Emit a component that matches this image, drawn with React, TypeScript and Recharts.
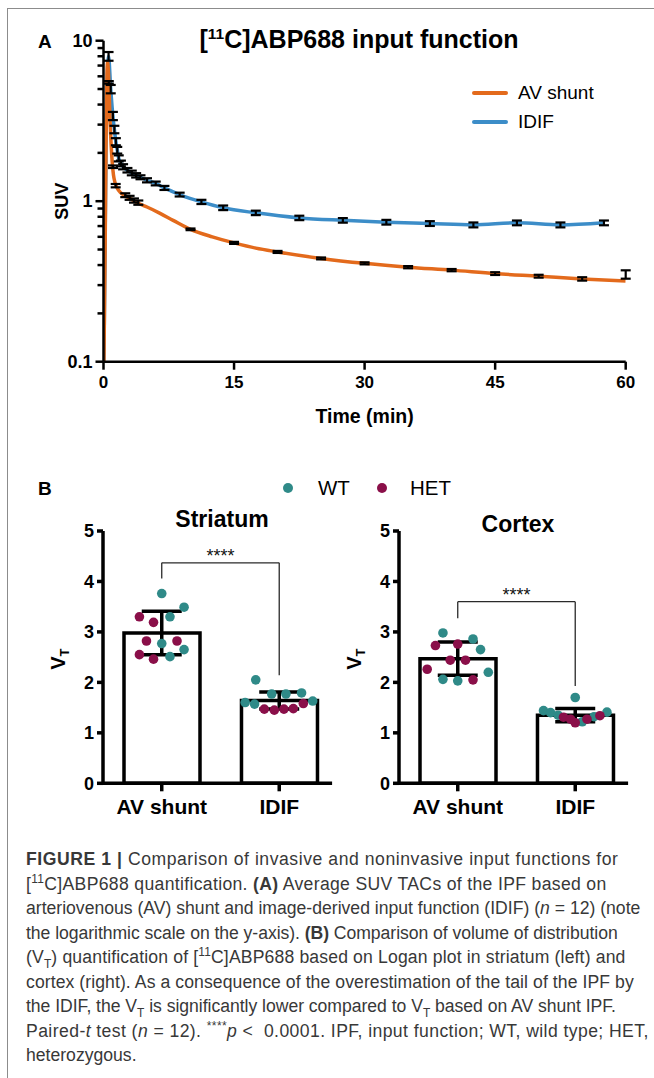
import React from 'react';
import { ComposedChart, Line, Scatter, Bar, XAxis, YAxis, ErrorBar, ReferenceLine } from 'recharts';

const FONT = '"Liberation Sans", Arial, Helvetica, sans-serif';
const ORANGE = '#E36A1C';
const BLUE = '#3C8DC8';
const TEAL = '#2F8A88';
const MAROON = '#8A0F49';

// ---------------- Panel A data ----------------
const TIME_TICKS = [0, 15, 30, 45, 60];
const SUV_MAJOR_TICKS = [0.1, 1, 10];
const SUV_MINOR_TICKS = [0.2, 0.3, 0.4, 0.5, 0.6, 0.7, 0.8, 0.9, 2, 3, 4, 5, 6, 7, 8, 9];

const avCurveTime = [0.05, 0.2, 0.3, 0.4, 0.47, 0.55, 0.65, 0.75, 0.85, 1.0, 1.15, 1.3, 1.6, 1.9, 2.5, 3.2, 4, 5, 6.5, 8, 10, 12.5, 15, 17.5, 20, 25, 30, 35, 40, 45, 50, 55, 60];
const avCurveSuv = [0.1, 0.6, 2.5, 6.2, 7.4, 6.6, 4.8, 3.2, 2.4, 1.75, 1.45, 1.32, 1.2, 1.14, 1.08, 1.03, 0.97, 0.92, 0.84, 0.76, 0.668, 0.6, 0.55, 0.51, 0.483, 0.44, 0.41, 0.388, 0.372, 0.354, 0.341, 0.328, 0.318];

const avSampleTime = [0.61, 1.09, 1.4, 2.5, 3.0, 3.5, 4.0, 10, 15, 20, 25, 30, 35, 40, 45, 50, 55, 60];
const avSampleMean = [5.5, 1.64, 1.25, 1.09, 1.05, 1.01, 0.98, 0.668, 0.55, 0.483, 0.44, 0.41, 0.388, 0.372, 0.354, 0.341, 0.328, 0.35];
const avSampleSd = [0.1, 0.03, 0.03, 0.03, 0.03, 0.03, 0.03, 0.008, 0.008, 0.007, 0.006, 0.006, 0.006, 0.006, 0.007, 0.007, 0.008, 0.021];

const idifTime = [0.05, 0.3, 0.58, 0.83, 1.08, 1.25, 1.42, 1.58, 1.75, 2.0, 2.25, 2.75, 3.25, 3.75, 4.25, 5, 6, 7, 8.75, 11.25, 13.75, 17.5, 22.5, 27.5, 32.5, 37.5, 42.5, 47.5, 52.5, 57.5];
const idifMean = [0.1, 2.5, 8.0, 5.0, 3.4, 2.8, 2.35, 2.08, 1.85, 1.72, 1.64, 1.56, 1.5, 1.45, 1.41, 1.35, 1.29, 1.21, 1.1, 0.99, 0.91, 0.846, 0.787, 0.76, 0.74, 0.726, 0.712, 0.733, 0.712, 0.733];
const idifSd = [0, 0, 0.5, 0.3, 0.2, 0.15, 0.12, 0.1, 0.08, 0.07, 0.06, 0.05, 0.05, 0.045, 0.04, 0.04, 0.035, 0.035, 0.03, 0.03, 0.03, 0.027, 0.025, 0.025, 0.025, 0.025, 0.025, 0.025, 0.025, 0.025];

// ---------------- Panel B data ----------------
const GROUPS = ['AV shunt', 'IDIF'];
const VT_TICKS = [0, 1, 2, 3, 4, 5];

const striatumMean = [2.98, 1.64];
const striatumSd = [0.43, 0.17];
const striatumWtAv = [3.76, 3.49, 3.3, 2.77, 2.65, 2.51];
const striatumWtAvJitter = [0.0, 0.19, 0.07, 0.0, 0.19, 0.07];
const striatumHetAv = [3.3, 3.19, 2.82, 2.82, 2.55, 2.46];
const striatumHetAvJitter = [-0.19, -0.07, -0.13, 0.13, -0.19, -0.07];
const striatumWtIdif = [2.05, 1.6, 1.57, 1.77, 1.77, 1.79, 1.63];
const striatumWtIdifJitter = [-0.2, -0.29, -0.21, -0.064, 0.057, 0.19, 0.285];
const striatumHetIdif = [1.47, 1.45, 1.47, 1.48, 1.58];
const striatumHetIdifJitter = [-0.127, -0.042, 0.04, 0.12, 0.205];
const striatumBracket = [4.06, 4.37, 2.14];

const cortexMean = [2.47, 1.35];
const cortexSd = [0.33, 0.13];
const cortexWtAv = [2.98, 2.86, 2.65, 2.2, 2.06, 2.03];
const cortexWtAvJitter = [-0.126, 0.13, 0.194, 0.26, -0.126, 0.0];
const cortexHetAv = [2.73, 2.76, 2.44, 2.44, 2.26, 2.05];
const cortexHetAvJitter = [-0.19, 0.0, -0.064, 0.066, -0.26, 0.13];
const cortexWtIdif = [1.7, 1.44, 1.4, 1.35, 1.41, 1.32, 1.22];
const cortexWtIdifJitter = [0.0, -0.27, -0.21, -0.146, 0.27, 0.16, 0.06];
const cortexHetIdif = [1.31, 1.27, 1.2, 1.27, 1.34];
const cortexHetIdifJitter = [-0.1, -0.04, 0.0, 0.1, 0.21];
const cortexBracket = [3.27, 3.6, 1.93];

const EmptyShape = () => <g />;

const LogTick = (props: any) => {
  const { x, y, payload } = props;
  const major = SUV_MAJOR_TICKS.includes(payload.value);
  const len = major ? 8 : 6;
  return (
    <g>
      <line x1={x - len} x2={x} y1={y} y2={y} stroke="#000" strokeWidth={2.5} />
      {major && (
        <text x={x - len - 3} y={y} textAnchor="end" dominantBaseline="central" fontFamily={FONT} fontWeight="bold" fontSize={18} fill="#000">
          {String(payload.value)}
        </text>
      )}
    </g>
  );
};

function PanelA() {
  const avCurve = avCurveTime.map((t, i) => ({ t, v: avCurveSuv[i] }));
  const avSamples = avSampleTime.map((t, i) => ({ t, v: avSampleMean[i], e: avSampleSd[i] }));
  const idif = idifTime.map((t, i) => ({ t, v: idifMean[i] }));
  const idifBars = idifTime.map((t, i) => ({ t, v: idifMean[i], e: idifSd[i] })).filter((d) => d.e > 0);
  const yTicks = [...SUV_MAJOR_TICKS, ...SUV_MINOR_TICKS].sort((a, b) => a - b);
  return (
    <div style={{ position: 'absolute', left: 0, top: 0 }}>
      <ComposedChart width={654} height={440} margin={{ top: 40.7, right: 28.3, bottom: 28.3, left: 43.5 }}>
        <XAxis
          type="number"
          dataKey="t"
          domain={[0, 60]}
          ticks={TIME_TICKS}
          allowDataOverflow
          height={50}
          tickSize={8}
          tickMargin={6}
          axisLine={{ stroke: '#000', strokeWidth: 2.5 }}
          tickLine={{ stroke: '#000', strokeWidth: 2.5 }}
          tick={{ fill: '#000', fontSize: 17, fontWeight: 'bold', fontFamily: FONT }}
          label={{
            content: (p: any) => {
              const vb = p.viewBox;
              return (
                <text x={vb.x + vb.width / 2} y={vb.y + 61} textAnchor="middle" fontFamily={FONT} fontWeight="bold" fontSize={19.5} fill="#000">
                  Time (min)
                </text>
              );
            },
          }}
        />
        <YAxis
          type="number"
          dataKey="v"
          scale="log"
          domain={[0.1, 10]}
          allowDataOverflow
          ticks={yTicks}
          interval={0}
          width={60}
          tickSize={0}
          tickMargin={0}
          tickLine={false}
          axisLine={{ stroke: '#000', strokeWidth: 2.5 }}
          tick={<LogTick />}
          label={{
            content: (p: any) => {
              const vb = p.viewBox;
              const cx = 68;
              const cy = vb.y + vb.height / 2;
              return (
                <text x={cx} y={cy} transform={`rotate(-90 ${cx} ${cy})`} textAnchor="middle" fontFamily={FONT} fontWeight="bold" fontSize={18} fill="#000">
                  SUV
                </text>
              );
            },
          }}
        />
        <Line data={idif} dataKey="v" type="monotone" stroke={BLUE} strokeWidth={3.5} dot={false} activeDot={false} isAnimationActive={false} />
        <Line data={avCurve} dataKey="v" type="monotone" stroke={ORANGE} strokeWidth={3.5} dot={false} activeDot={false} isAnimationActive={false} />
        <Scatter data={avSamples} dataKey="v" shape={EmptyShape} isAnimationActive={false}>
          <ErrorBar dataKey="e" direction="y" width={5} stroke="#000" strokeWidth={2.2} />
        </Scatter>
        <Scatter data={idifBars} dataKey="v" shape={EmptyShape} isAnimationActive={false}>
          <ErrorBar dataKey="e" direction="y" width={5} stroke="#000" strokeWidth={2.2} />
        </Scatter>
      </ComposedChart>
    </div>
  );
}

const makeDot = (color: string) => (p: any) => <circle cx={p.cx} cy={p.cy} r={4.8} fill={color} />;
const TealDot = makeDot(TEAL);
const MaroonDot = makeDot(MAROON);

function VtChart(props: {
  left: number;
  mean: number[];
  sd: number[];
  wtAv: number[];
  wtAvJ: number[];
  hetAv: number[];
  hetAvJ: number[];
  wtIdif: number[];
  wtIdifJ: number[];
  hetIdif: number[];
  hetIdifJ: number[];
  bracket: number[];
}) {
  const { left, mean, sd, bracket } = props;
  const barData = GROUPS.map((g, i) => ({ x: i + 0.5, v: mean[i], e: sd[i], name: g }));
  const pts = (vals: number[], jit: number[], gi: number) => vals.map((v, i) => ({ x: gi + 0.5 + jit[i], v }));
  const wt = [...pts(props.wtAv, props.wtAvJ, 0), ...pts(props.wtIdif, props.wtIdifJ, 1)];
  const het = [...pts(props.hetAv, props.hetAvJ, 0), ...pts(props.hetIdif, props.hetIdifJ, 1)];
  const line = { stroke: '#2a2a2a', strokeWidth: 1.3 };
  return (
    <div style={{ position: 'absolute', left, top: 500 }}>
      <ComposedChart width={345} height={330} data={barData} margin={{ top: 31, right: 12.9, bottom: 6.7, left: 43 }}>
        <XAxis
          xAxisId="main"
          type="number"
          dataKey="x"
          domain={[0, 1.95]}
          ticks={[0.5, 1.5]}
          allowDataOverflow
          height={40}
          tickSize={8}
          tickMargin={8}
          tickFormatter={(v: number) => GROUPS[Math.round(v - 0.5)]}
          axisLine={{ stroke: '#000', strokeWidth: 3.5 }}
          tickLine={{ stroke: '#000', strokeWidth: 3.5 }}
          tick={{ fill: '#000', fontSize: 21, fontWeight: 'bold', fontFamily: FONT }}
        />
        <XAxis xAxisId="jit" orientation="top" height={0} type="number" dataKey="x" domain={[0, 1.95]} allowDataOverflow hide />
        <YAxis
          type="number"
          dataKey="v"
          domain={[0, 5]}
          ticks={VT_TICKS}
          interval={0}
          width={60}
          tickSize={6}
          tickMargin={3}
          axisLine={{ stroke: '#000', strokeWidth: 3.5 }}
          tickLine={{ stroke: '#000', strokeWidth: 3.5 }}
          tick={{ fill: '#000', fontSize: 18, fontWeight: 'bold', fontFamily: FONT }}
          label={{
            content: (p: any) => {
              const vb = p.viewBox;
              const cx = 65;
              const cy = vb.y + vb.height / 2 + 2;
              return (
                <text x={cx} y={cy} transform={`rotate(-90 ${cx} ${cy})`} textAnchor="middle" fontFamily={FONT} fontWeight="bold" fontSize={20} fill="#000">
                  V<tspan fontSize={13} dy={4}>T</tspan>
                </text>
              );
            },
          }}
        />
        <Bar xAxisId="main" dataKey="v" barSize={76} fill="#fff" stroke="#000" strokeWidth={3.5} isAnimationActive={false} />
        <ReferenceLine xAxisId="main" segment={[{ x: 0.5, y: bracket[0] }, { x: 0.5, y: bracket[1] }]} {...line} ifOverflow="visible" />
        <ReferenceLine
          xAxisId="main"
          segment={[{ x: 0.5, y: bracket[1] }, { x: 1.5, y: bracket[1] }]}
          {...line}
          ifOverflow="visible"
          label={{
            content: (p: any) => {
              const vb = p.viewBox || {};
              const cx = (vb.x ?? 0) + (vb.width ?? 0) / 2;
              const cy = (vb.y ?? 0) - 1;
              return (
                <text x={cx} y={cy} textAnchor="middle" fontFamily={FONT} fontSize={18} fill="#111">
                  ****
                </text>
              );
            },
          }}
        />
        <ReferenceLine xAxisId="main" segment={[{ x: 1.5, y: bracket[1] }, { x: 1.5, y: bracket[2] }]} {...line} ifOverflow="visible" />
        <Scatter xAxisId="jit" data={wt} dataKey="v" shape={TealDot} isAnimationActive={false} />
        <Scatter xAxisId="jit" data={het} dataKey="v" shape={MaroonDot} isAnimationActive={false} />
        <Scatter xAxisId="main" data={barData} dataKey="v" shape={EmptyShape} isAnimationActive={false}>
          <ErrorBar dataKey="e" direction="y" width={20} stroke="#000" strokeWidth={3.5} />
        </Scatter>
      </ComposedChart>
    </div>
  );
}

const supStyle: React.CSSProperties = { fontSize: '0.68em', verticalAlign: 'super', lineHeight: 0 };
const subStyle: React.CSSProperties = { fontSize: '0.68em', verticalAlign: 'sub', lineHeight: 0 };

const CAPTION_LINES: React.ReactNode[] = [
  <><b>FIGURE 1 |</b> Comparison of invasive and noninvasive input functions for</>,
  <>[<span style={supStyle}>11</span>C]ABP688 quantification. <b>(A)</b> Average SUV TACs of the IPF based on</>,
  <>arteriovenous (AV) shunt and image-derived input function (IDIF) (<i>n</i> = 12) (note</>,
  <>the logarithmic scale on the y-axis). <b>(B)</b> Comparison of volume of distribution</>,
  <>(V<span style={subStyle}>T</span>) quantification of [<span style={supStyle}>11</span>C]ABP688 based on Logan plot in striatum (left) and</>,
  <>cortex (right). As a consequence of the overestimation of the tail of the IPF by</>,
  <>the IDIF, the V<span style={subStyle}>T</span> is significantly lower compared to V<span style={subStyle}>T</span> based on AV shunt IPF.</>,
  <>Paired-<i>t</i> test (<i>n</i> = 12). <span style={supStyle}>****</span><i>p</i> &lt;&nbsp; 0.0001. IPF, input function; WT, wild type; HET,</>,
  <>heterozygous.</>,
];
const CAPTION_SPACING = [0.55, 0.33, 0, -0.05, 0.15, 0.08, -0.03, 0.42, 0];

const abs = (left: number, top: number, extra: React.CSSProperties = {}): React.CSSProperties => ({
  position: 'absolute',
  left,
  top,
  fontFamily: FONT,
  whiteSpace: 'nowrap',
  ...extra,
});

export default function App() {
  return (
    <div style={{ position: 'absolute', left: 0, top: 0, width: 654, height: 1078, background: '#fff', overflow: 'hidden', fontFamily: FONT }}>
      <div style={{ position: 'absolute', left: 7, top: 8, width: 660, height: 1100, borderTop: '1px solid #8c8c8c', borderLeft: '1px solid #8c8c8c' }} />

      <PanelA />
      <div style={abs(38, 32, { fontSize: 19, fontWeight: 'bold', lineHeight: '19px' })}>A</div>
      <div style={abs(159, 27, { width: 400, textAlign: 'center', fontSize: 25, fontWeight: 'bold', lineHeight: '25px' })}>
        [<span style={{ fontSize: '0.62em', verticalAlign: 'super', lineHeight: 0 }}>11</span>C]ABP688 input function
      </div>
      <div style={abs(472, 82, { fontSize: 19, lineHeight: '22px' })}>
        <div style={{ display: 'flex', alignItems: 'center', height: 22 }}>
          <span style={{ display: 'inline-block', width: 36, height: 4, background: ORANGE, borderRadius: 2, marginRight: 10 }} />
          AV shunt
        </div>
        <div style={{ display: 'flex', alignItems: 'center', height: 22, marginTop: 7 }}>
          <span style={{ display: 'inline-block', width: 36, height: 4, background: BLUE, borderRadius: 2, marginRight: 10 }} />
          IDIF
        </div>
      </div>

      <div style={abs(38, 479, { fontSize: 19, fontWeight: 'bold', lineHeight: '19px' })}>B</div>
      <span style={abs(283, 483, { width: 10, height: 10, borderRadius: 5, background: TEAL })} />
      <span style={abs(318, 477, { fontSize: 20.5, lineHeight: '22px' })}>WT</span>
      <span style={abs(377, 483, { width: 10, height: 10, borderRadius: 5, background: MAROON })} />
      <span style={abs(410, 477, { fontSize: 20.5, lineHeight: '22px' })}>HET</span>

      <div style={abs(117, 508, { width: 210, textAlign: 'center', fontSize: 23, fontWeight: 'bold', lineHeight: '23px' })}>Striatum</div>
      <div style={abs(413, 513, { width: 210, textAlign: 'center', fontSize: 23, fontWeight: 'bold', lineHeight: '23px' })}>Cortex</div>

      <VtChart
        left={0}
        mean={striatumMean}
        sd={striatumSd}
        wtAv={striatumWtAv}
        wtAvJ={striatumWtAvJitter}
        hetAv={striatumHetAv}
        hetAvJ={striatumHetAvJitter}
        wtIdif={striatumWtIdif}
        wtIdifJ={striatumWtIdifJitter}
        hetIdif={striatumHetIdif}
        hetIdifJ={striatumHetIdifJitter}
        bracket={striatumBracket}
      />
      <VtChart
        left={296}
        mean={cortexMean}
        sd={cortexSd}
        wtAv={cortexWtAv}
        wtAvJ={cortexWtAvJitter}
        hetAv={cortexHetAv}
        hetAvJ={cortexHetAvJitter}
        wtIdif={cortexWtIdif}
        wtIdifJ={cortexWtIdifJitter}
        hetIdif={cortexHetIdif}
        hetIdifJ={cortexHetIdifJitter}
        bracket={cortexBracket}
      />

      {CAPTION_LINES.map((ln, i) => (
        <div key={i} style={abs(26, 849 + i * 24.55, { fontSize: 17.6, lineHeight: '21px', color: '#383838', letterSpacing: CAPTION_SPACING[i] })}>
          {ln}
        </div>
      ))}
    </div>
  );
}
